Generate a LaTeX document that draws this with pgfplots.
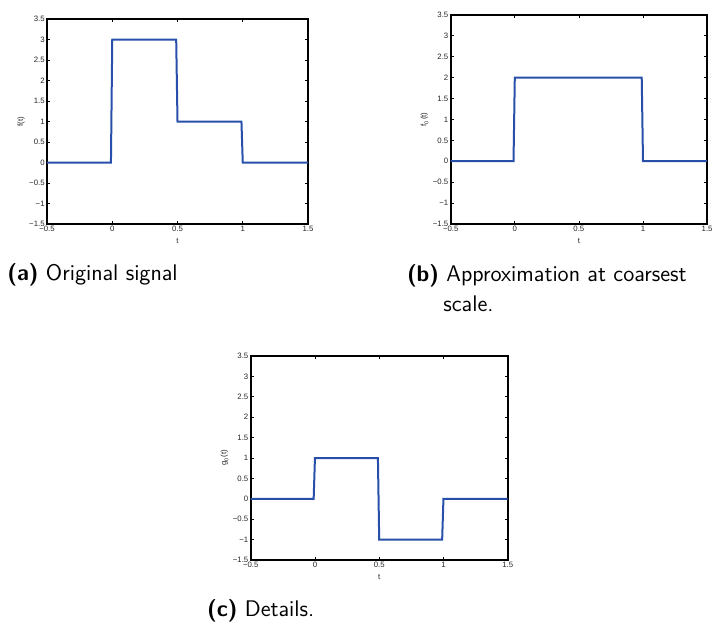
\documentclass[border=0pt]{standalone}
\usepackage{fontspec}
\usepackage{pgfplots}
\pgfplotsset{compat=1.18}
\newfontfamily\helv{Liberation Sans}
\definecolor{mblue}{RGB}{40,80,170}

\pgfplotsset{
  sig/.style={
    scale only axis, anchor=south west,
    xmin=-0.5, xmax=1.5, ymin=-1.5, ymax=3.5,
    xtick={-0.5,0,0.5,1,1.5},
    xticklabels={−0.5,0,0.5,1,1.5},
    ytick={-1.5,-1,-0.5,0,0.5,1,1.5,2,2.5,3,3.5},
    yticklabels={−1.5,−1,−0.5,0,0.5,1,1.5,2,2.5,3,3.5},
    tick align=inside, major tick length=1.5pt,
    axis line style={line width=0.8pt},
    every tick/.style={black, line width=0.4pt},
    ticklabel style={font=\helv\fontsize{3.9}{4.3}\selectfont, text=black!85, inner sep=1pt},
    label style={font=\helv\fontsize{3.9}{4.3}\selectfont, text=black!85, inner sep=1pt},
    xlabel style={yshift=-1.2pt},
    xlabel={t},
  },
  sigline/.style={color=mblue, line width=1pt},
}

\begin{document}
\begin{tikzpicture}
\useasboundingbox (0,0) rectangle (356pt,311pt);

% (a) original signal
\begin{axis}[sig, at={(23.5pt,199pt)}, width=130.5pt, height=102.5pt, ylabel={f(t)}]
\addplot[sigline] coordinates {
  (-0.5,0) (-0.01,0) (0,3) (0.49,3) (0.5,1) (0.99,1) (1,0) (1.5,0)
};
\end{axis}

% (b) coarsest approximation
\begin{axis}[sig, at={(225.35pt,199pt)}, width=128.2pt, height=104.6pt, ylabel={f\textsubscript{0}(t)}]
\addplot[sigline] coordinates {
  (-0.5,0) (-0.01,0) (0,2) (0.99,2) (1,0) (1.5,0)
};
\end{axis}

% (c) details
\begin{axis}[sig, at={(125.35pt,31pt)}, width=128.5pt, height=102pt, ylabel={g\textsubscript{0}(t)}]
\addplot[sigline] coordinates {
  (-0.5,0) (-0.01,0) (0,1) (0.49,1) (0.5,-1) (0.99,-1) (1,0) (1.5,0)
};
\end{axis}

\begin{scope}[every node/.style={inner sep=0pt, font=\sffamily\fontsize{11.3}{13}\selectfont}]
\node[anchor=base west] at (3.5pt,170.5pt) {\textbf{(a)} Original signal};
\node[anchor=base west] at (203.3pt,170pt) {\textbf{(b)} Approximation at coarsest};
\node[anchor=base west] at (221.5pt,155pt) {scale.};
\node[anchor=base west] at (103.35pt,3pt) {\textbf{(c)} Details.};
\end{scope}
\end{tikzpicture}
\end{document}
